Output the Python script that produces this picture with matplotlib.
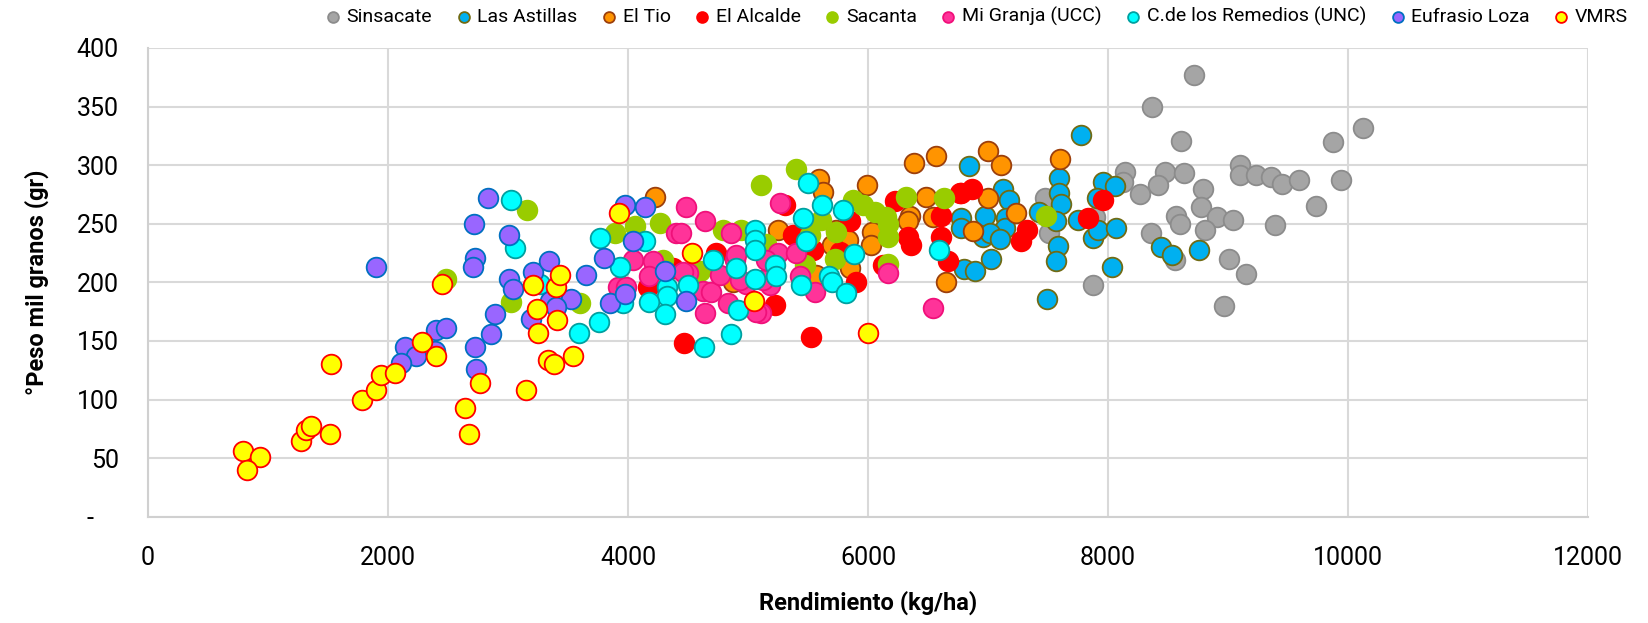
import matplotlib.pyplot as plt
import numpy as np

plt.rcParams["font.family"] = ["Roboto", "DejaVu Sans"]

# rendimiento (kg/ha), peso mil granos (gr) per localidad
sinsacate_x = [8720, 8370, 8612, 10125, 9878, 8472, 8637, 8417, 9103, 9103, 9231, 9362, 9450, 9589,
               9939, 8789, 8773, 9737, 8570, 8603, 8906, 9042, 9389, 8812, 8361, 8556, 9006, 9150,
               8967, 8142, 8125, 8264, 7875, 7472, 7508, 7889, 7495]
sinsacate_y = [377, 350, 321, 332, 320, 294, 293, 283, 300, 292, 292, 290, 284, 287,
               287, 280, 264, 265, 257, 250, 256, 253, 249, 245, 242, 219, 220, 207,
               180, 294, 286, 275, 198, 272, 242, 256, 257]

astillas_x = [8445, 8537, 8756, 7772, 6842, 7589, 7589, 7606, 7125, 7175, 7958, 8056, 7908, 6975,
              6778, 6778, 7153, 7139, 6958, 7014, 7103, 7422, 7564, 7750, 7875, 7917, 8064, 7586,
              7569, 7028, 6797, 6895, 8036, 7495]
astillas_y = [230, 223, 228, 326, 299, 289, 276, 267, 280, 270, 286, 282, 272, 257,
              255, 246, 255, 246, 239, 242, 237, 260, 252, 253, 238, 245, 246, 231,
              218, 220, 211, 210, 213, 186]

tio_x = [7000, 7106, 7597, 7000, 7236, 6381, 6564, 5592, 5625, 5992, 6487, 6347, 6333, 6542,
         5250, 5737, 5834, 6037, 6028, 5703, 5848, 5570, 6653, 6875, 4222, 4875]
tio_y = [312, 300, 305, 272, 259, 302, 308, 288, 277, 283, 273, 257, 252, 256,
         245, 245, 236, 243, 232, 232, 212, 206, 200, 244, 273, 200]

alcalde_x = [6870, 6778, 7328, 7272, 7833, 7958, 5306, 6222, 6764, 6611, 6333, 6362, 6611, 6667,
             5848, 5375, 5542, 5764, 6125, 5903, 5222, 5528, 4464, 4167, 4375, 4528, 4736]
alcalde_y = [280, 276, 245, 235, 255, 270, 266, 269, 276, 257, 239, 232, 239, 218,
             252, 240, 228, 226, 215, 200, 181, 153, 148, 196, 212, 205, 225]

sacanta_x = [7481, 5397, 5111, 6319, 6633, 5875, 5958, 6056, 6153, 6167, 6167, 5606, 5731, 5514,
             5722, 5472, 6167, 4264, 4056, 3889, 4792, 4945, 3597, 4292, 5153, 4597, 3161, 2486,
             3022]
sacanta_y = [257, 297, 283, 273, 272, 270, 266, 260, 256, 250, 239, 253, 243, 240,
             220, 215, 216, 251, 248, 242, 245, 245, 182, 219, 233, 210, 262, 203,
             183]

granja_x = [5264, 6167, 6542, 5250, 5403, 5431, 5556, 5181, 5111, 4481, 4639, 4398, 4861, 4042,
            4208, 4178, 3917, 3987, 4625, 4695, 4764, 4889, 4500, 4833, 4639, 5070, 4987, 5153,
            4903, 4931, 5125, 4458, 4445]
granja_y = [268, 208, 178, 225, 225, 205, 192, 198, 174, 264, 252, 242, 242, 219,
            218, 205, 196, 196, 193, 192, 206, 219, 208, 182, 174, 175, 199, 219,
            223, 202, 202, 209, 242]

remedios_x = [5500, 5620, 5792, 5458, 5481, 5881, 5222, 5236, 5675, 5703, 5445, 5820, 6589, 3770,
              4139, 3931, 4708, 4897, 5056, 5056, 5056, 5056, 4325, 4325, 4500, 4175, 4306, 3958,
              3758, 3592, 4917, 4861, 4631, 3022, 3056, 3264]
remedios_y = [285, 266, 262, 255, 235, 224, 215, 205, 205, 200, 198, 191, 228, 238,
              235, 213, 219, 212, 245, 236, 228, 203, 196, 188, 198, 183, 173, 182,
              166, 157, 176, 156, 145, 270, 229, 199]

loza_x = [3972, 4139, 4042, 3800, 3647, 3528, 3847, 3972, 4306, 4481, 1903, 2833, 2720, 2722,
          2708, 3006, 3006, 3042, 3208, 3342, 3347, 3195, 3403, 2895, 2862, 2722, 2736, 2397,
          2481, 2139, 2236, 2111, 2389]
loza_y = [266, 264, 235, 221, 206, 186, 182, 190, 210, 184, 213, 272, 250, 221,
          213, 240, 203, 194, 209, 218, 184, 169, 179, 173, 156, 145, 126, 159,
          161, 145, 137, 131, 141]

vmrs_x = [794, 931, 828, 1278, 1320, 1362, 1514, 1522, 1786, 1903, 1945, 2056, 2287, 2403,
          2453, 2639, 2675, 2764, 3153, 3208, 3242, 3250, 3333, 3381, 3403, 3431, 3408, 3542,
          3925, 4537, 5050, 6000]
vmrs_y = [56, 51, 40, 65, 74, 77, 71, 130, 100, 108, 121, 123, 149, 137,
          199, 93, 71, 114, 108, 198, 177, 157, 134, 130, 196, 206, 168, 137,
          259, 225, 184, 157]

series = [
    ("Sinsacate", sinsacate_x, sinsacate_y, "#A5A5A5", "#8C8C8C"),
    ("Las Astillas", astillas_x, astillas_y, "#00B0F0", "#716B14"),
    ("El Tio", tio_x, tio_y, "#FF9400", "#9C3F0C"),
    ("El Alcalde", alcalde_x, alcalde_y, "#FF0000", "#FF0000"),
    ("Sacanta", sacanta_x, sacanta_y, "#99CC00", "#99CC00"),
    ("Mi Granja (UCC)", granja_x, granja_y, "#FF3399", "#F0107A"),
    ("C.de los Remedios (UNC)", remedios_x, remedios_y, "#00FFFF", "#00A0A0"),
    ("Eufrasio Loza", loza_x, loza_y, "#9966FF", "#0070C0"),
    ("VMRS", vmrs_x, vmrs_y, "#FFFF00", "#FF0000"),
]

fig = plt.figure(figsize=(16.48, 6.23), dpi=100)
ax = fig.add_axes([0.0898, 0.1706, 0.8738, 0.7524])

for name, xs, ys, fc, ec in series:
    ax.scatter(xs, ys, s=200, facecolor=fc, edgecolor=ec, linewidths=1.3, label=name, zorder=3)

ax.set_xlim(0, 12000)
ax.set_ylim(0, 400)
ax.set_xticks(np.arange(0, 12001, 2000))
ax.set_yticks(np.arange(0, 401, 50))
ax.set_yticklabels(["-    "] + [str(v) for v in range(50, 401, 50)])
ax.grid(True, color="#D9D9D9", linewidth=1.5, zorder=0)
ax.set_axisbelow(True)
for side in ["top", "right"]:
    ax.spines[side].set_visible(False)
for side in ["left", "bottom"]:
    ax.spines[side].set_color("#D0D0D0")
    ax.spines[side].set_linewidth(1.5)
ax.tick_params(axis="both", length=0, labelsize=18, colors="#000000")
ax.tick_params(axis="x", pad=21)
ax.tick_params(axis="y", pad=21)

ax.set_xlabel("Rendimiento (kg/ha)", fontsize=17, fontweight="bold", labelpad=15)
ax.set_ylabel("°Peso mil granos (gr)", fontsize=17, fontweight="bold", labelpad=20)

fig.legend(loc="upper right", bbox_to_anchor=(0.995, 1.008), ncol=9, frameon=False,
           fontsize=14, markerscale=0.55, handlelength=0.8, handletextpad=0.3,
           columnspacing=1.22, borderaxespad=0.2)

fig.savefig("out.png", dpi=100)
